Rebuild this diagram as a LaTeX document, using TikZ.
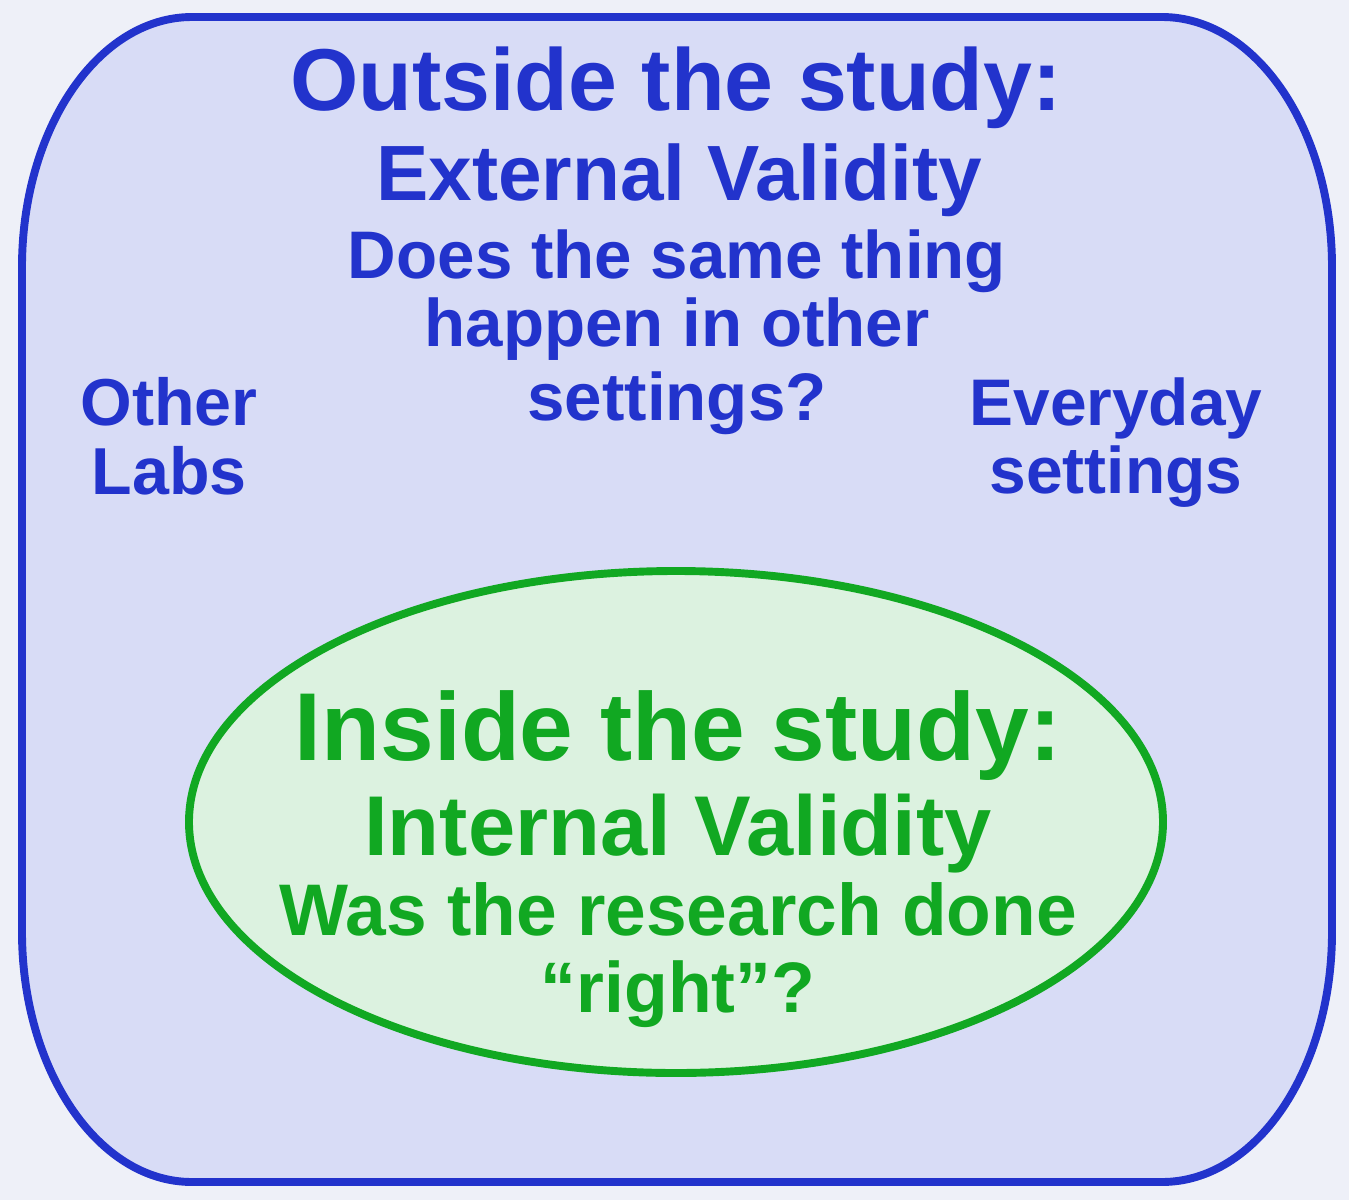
\documentclass[tikz,border=0pt]{standalone}
\usepackage{fontspec}
\setmainfont{Liberation Sans}
\definecolor{bgout}{HTML}{EEF0F8}
\definecolor{boxfill}{HTML}{D8DCF6}
\definecolor{boxline}{HTML}{2233CC}
\definecolor{ellfill}{HTML}{DCF2E0}
\definecolor{ellline}{HTML}{11A822}
\tikzset{
  bluetxt/.style={text=boxline, font=\bfseries, anchor=base, inner sep=0pt},
  greentxt/.style={text=ellline, font=\bfseries, anchor=base, inner sep=0pt},
}
\newcommand{\fsz}[1]{\fontsize{#1}{#1}\selectfont}
\begin{document}
\begin{tikzpicture}[x=0.02cm,y=-0.02cm]
\fill[bgout] (0,0) rectangle (1349,1200);
\useasboundingbox (0,0) rectangle (1349,1200);
% outer rounded box
\draw[boxline, fill=boxfill, line width=4.5pt]
  (192,17) -- (1162,17) .. controls (1256,17) and (1332,129) .. (1332,267)
  -- (1332,932) .. controls (1332,1070) and (1256,1182) .. (1162,1182)
  -- (192,1182) .. controls (98,1182) and (22,1070) .. (22,932)
  -- (22,267) .. controls (22,129) and (98,17) .. (192,17) -- cycle;
% inner ellipse
\draw[ellline, fill=ellfill, line width=4.5pt] (676,822) ellipse [x radius=487, y radius=251];
% outside texts
\node[bluetxt, font=\bfseries\fsz{50}] (out1) at (676,110) {Outside the study:};
\node[bluetxt, font=\bfseries\fsz{44.6}] (out2) at (679,200) {External Validity};
\node[bluetxt, font=\bfseries\fsz{38.3}] (out3) at (677,278) {Does the same thing};
\node[bluetxt, font=\bfseries\fsz{38.3}] (out4) at (677,346) {happen in other};
\node[bluetxt, font=\bfseries\fsz{38.3}] (out5) at (677,420) {settings?};
\node[bluetxt, font=\bfseries\fsz{37.8}] (lab1) at (169,425) {Other};
\node[bluetxt, font=\bfseries\fsz{37.8}] (lab2) at (169,494) {Labs};
\node[bluetxt, font=\bfseries\fsz{37.5}] (eve1) at (1116,425) {Everyday};
\node[bluetxt, font=\bfseries\fsz{37.5}] (eve2) at (1116,493) {settings};
% inside texts
\node[greentxt, font=\bfseries\fsz{54.9}] (in1) at (678,760) {Inside the study:};
\node[greentxt, font=\bfseries\fsz{48.3}] (in2) at (678,855) {Internal Validity};
\node[greentxt, font=\bfseries\fsz{41.6}] (in3) at (678,935) {Was the research done};
\node[greentxt, font=\bfseries\fsz{40.7}] (in4) at (678,1012) {“right”?};
\end{tikzpicture}
\end{document}
